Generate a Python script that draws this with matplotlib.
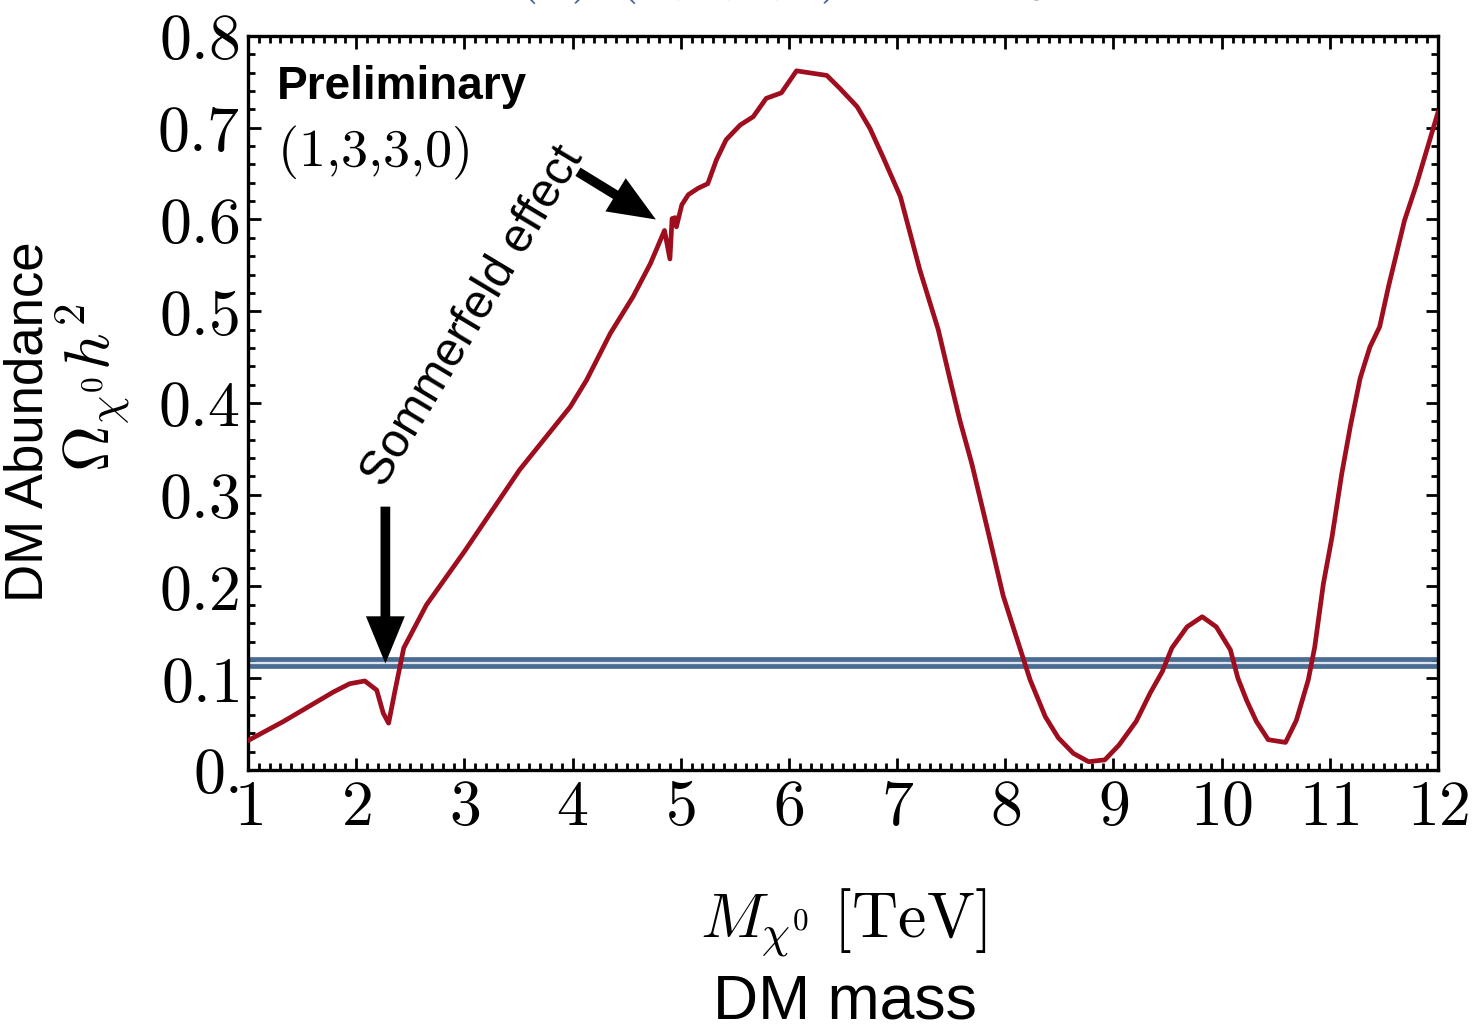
import matplotlib
matplotlib.use("Agg")
import matplotlib.pyplot as plt
from matplotlib.ticker import MultipleLocator, FixedLocator, FixedFormatter

plt.rcParams['mathtext.fontset'] = 'cm'
plt.rcParams['font.family'] = ['Liberation Sans', 'DejaVu Sans']

# relic abundance
mass = [1.00, 1.33, 1.79, 1.94, 2.08, 2.19, 2.25, 2.30, 2.36, 2.44, 2.65, 3.00,
        3.51, 3.98, 4.13, 4.35, 4.56, 4.72, 4.85, 4.90, 4.92, 4.95, 4.96, 5.01,
        5.07, 5.16, 5.25, 5.33, 5.42, 5.55, 5.67, 5.79, 5.93, 6.07, 6.35, 6.47,
        6.63, 6.75, 6.87, 7.03, 7.21, 7.38, 7.49, 7.58, 7.69, 7.83, 7.98,
        8.08, 8.17, 8.23, 8.37, 8.49, 8.63, 8.77, 8.92, 9.05, 9.21, 9.34, 9.45,
        9.54, 9.68, 9.82, 9.95, 10.08, 10.15, 10.23, 10.32, 10.43, 10.59, 10.69,
        10.80, 10.86, 10.94, 11.02, 11.11, 11.19, 11.28, 11.37, 11.46, 11.54,
        11.69, 11.80, 12.00]
omega = [0.032, 0.053, 0.085, 0.094, 0.097, 0.087, 0.062, 0.051, 0.087, 0.133,
         0.180, 0.238, 0.327, 0.396, 0.425, 0.476, 0.516, 0.552, 0.588, 0.557,
         0.601, 0.602, 0.592, 0.616, 0.627, 0.634, 0.639, 0.665, 0.687, 0.703,
         0.712, 0.732, 0.738, 0.762, 0.757, 0.743, 0.723, 0.699, 0.668, 0.625,
         0.545, 0.480, 0.425, 0.381, 0.334, 0.265, 0.190, 0.153, 0.120,
         0.098, 0.058, 0.035, 0.018, 0.009, 0.011, 0.027, 0.053, 0.084, 0.107,
         0.133, 0.156, 0.167, 0.156, 0.131, 0.100, 0.076, 0.053, 0.033, 0.030,
         0.054, 0.098, 0.134, 0.203, 0.254, 0.323, 0.375, 0.427, 0.461, 0.483,
         0.526, 0.599, 0.638, 0.717]

# observed band
band = [0.113, 0.121]

xticks = list(range(1, 13))
yticks = [0.0, 0.1, 0.2, 0.3, 0.4, 0.5, 0.6, 0.7, 0.8]
yticklabels = ['$0.$', '$0.1$', '$0.2$', '$0.3$', '$0.4$', '$0.5$', '$0.6$', '$0.7$', '$0.8$']

red = '#9e0e1e'
blue = '#4a6b92'

fig = plt.figure(figsize=(14.76, 10.31), dpi=100)
ax = fig.add_axes([0.168, 0.2532, 0.8063, 0.7119])

ax.fill_between([1, 12], band[0], band[1], color='#dde3ec', lw=0, zorder=1)
ax.axhline(band[0], color=blue, lw=3.4, zorder=2)
ax.axhline(band[1], color=blue, lw=3.4, zorder=2)
ax.plot(mass, omega, color=red, lw=3.4, zorder=3)

ax.set_xlim(1, 12)
ax.set_ylim(0, 0.8)
ax.xaxis.set_major_locator(FixedLocator(xticks))
ax.xaxis.set_major_formatter(FixedFormatter(['$%d$' % t for t in xticks]))
ax.xaxis.set_minor_locator(MultipleLocator(0.1))
ax.yaxis.set_major_locator(FixedLocator(yticks))
ax.yaxis.set_major_formatter(FixedFormatter(yticklabels))
ax.yaxis.set_minor_locator(MultipleLocator(0.02))
ax.tick_params(which='both', direction='in', top=True, right=True, width=2.0)
ax.tick_params(which='major', length=9, labelsize=46, pad=6)
ax.tick_params(which='minor', length=5)
for s in ax.spines.values():
    s.set_linewidth(2.4)

# labels
fig.text(0.5715, 0.105, r'$M_{\chi^0}\ \mathrm{[TeV]}$', fontsize=46, ha='center', va='center')
fig.text(0.5725, 0.028, 'DM mass', fontsize=45, ha='center', va='center')
fig.text(0.019, 0.591, 'DM Abundance', fontsize=38, rotation=90, ha='center', va='center')
fig.text(0.063, 0.624, r'$\Omega_{\chi^0} h^2$', fontsize=46, rotation=90, ha='center', va='center')

ax.text(0.024, 0.96, 'Preliminary', transform=ax.transAxes, fontsize=33,
        fontweight='bold', ha='left', va='top')
ax.text(0.024, 0.88, r'$(1{,}3{,}3{,}0)$', transform=ax.transAxes, fontsize=39,
        ha='left', va='top')

# arrows
ax.annotate('', xy=(2.27, 0.116), xytext=(2.27, 0.287),
            arrowprops=dict(facecolor='black', edgecolor='none', width=7,
                            headwidth=28, headlength=34, shrink=0))
ax.annotate('', xy=(4.77, 0.600), xytext=(4.05, 0.652),
            arrowprops=dict(facecolor='black', edgecolor='none', width=7,
                            headwidth=28, headlength=34, shrink=0))
ax.text(3.08, 0.494, 'Sommerfeld effect', fontsize=34.5, rotation=59,
        ha='center', va='center', rotation_mode='anchor')

# title, mostly cut off at top
fig.text(0.291, 1.012, r'$\mathrm{SU(2)\ }(1{,}3{,}3{,}0)\mathrm{\ with\ }\chi$',
         fontsize=46, color=blue, ha='left', va='baseline')

fig.savefig('out.png', dpi=100)
